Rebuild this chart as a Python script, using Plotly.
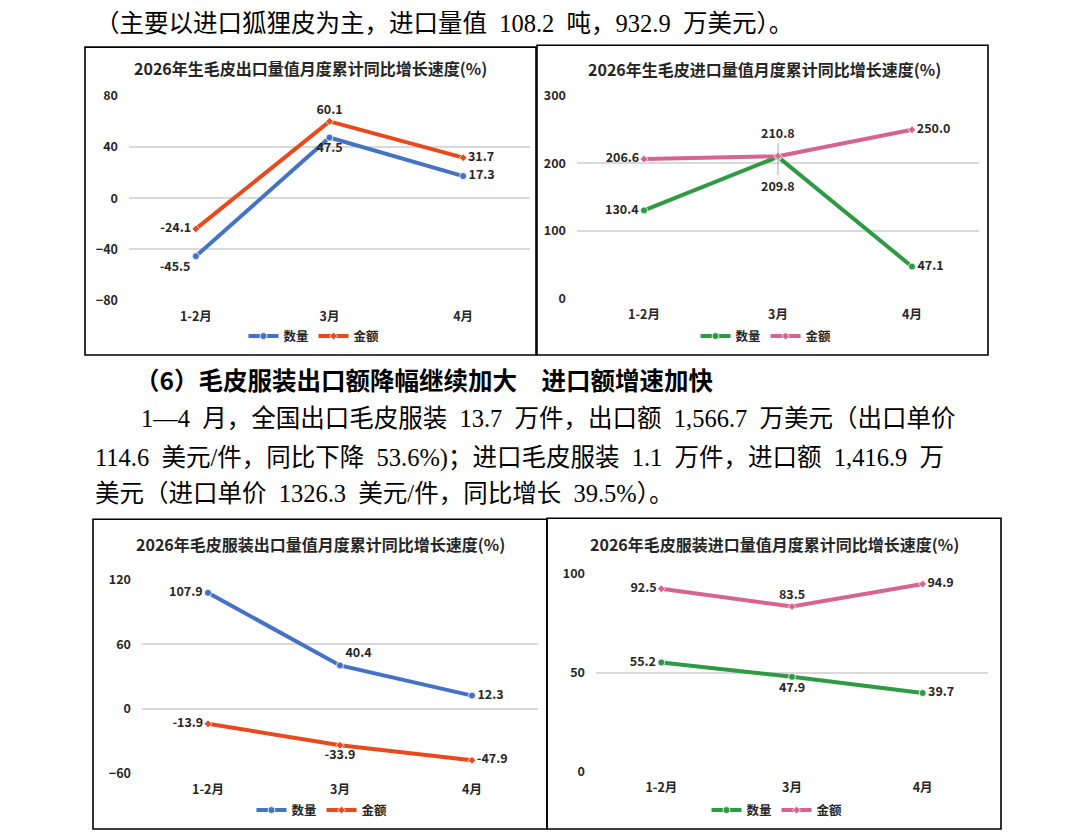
import plotly.graph_objects as go

W, H = 1085, 839

# data
months = ["1-2月", "3月", "4月"]

raw_export_qty = [-45.5, 47.5, 17.3]
raw_export_val = [-24.1, 60.1, 31.7]
raw_import_qty = [130.4, 209.8, 47.1]
raw_import_val = [206.6, 210.8, 250.0]
garment_export_qty = [107.9, 40.4, 12.3]
garment_export_val = [-13.9, -33.9, -47.9]
garment_import_qty = [55.2, 47.9, 39.7]
garment_import_val = [92.5, 83.5, 94.9]

titles = [
    "2026年生毛皮出口量值月度累计同比增长速度(%)",
    "2026年生毛皮进口量值月度累计同比增长速度(%)",
    "2026年毛皮服装出口量值月度累计同比增长速度(%)",
    "2026年毛皮服装进口量值月度累计同比增长速度(%)",
]
series_names = ["数量", "金额"]

# en spaces (\u2002) stand in for the half-width gaps of the original page
body_lines = [
    "（主要以进口狐狸皮为主，进口量值\u2002108.2\u2002吨，932.9\u2002万美元）。",
    "1—4\u2002月，全国出口毛皮服装\u200213.7\u2002万件，出口额\u20021,566.7\u2002万美元（出口单价",
    "114.6\u2002美元/件，同比下降\u200253.6%)；进口毛皮服装\u20021.1\u2002万件，进口额\u20021,416.9\u2002万",
    "美元（进口单价\u20021326.3\u2002美元/件，同比增长\u200239.5%）。",
]
heading = "（6）毛皮服装出口额降幅继续加大\u3000进口额增速加快"

CJK = "Noto Sans CJK SC"
BODY = "Liberation Serif, Noto Sans CJK SC"
INK = "#262626"
BLUE, ORANGE = "#4472C4", "#E8491D"
GREEN, PINK = "#2E9A44", "#D6648F"


def px(x):
    return x / W


def py(y):
    return 1 - y / H


# per panel: plot area (px), box (px), y range, tick step, legend centre, colours, label positions
panels = [
    dict(qty=raw_export_qty, val=raw_export_val, colors=(BLUE, ORANGE),
         plot=(129, 87, 530, 296), box=(85, 37, 536, 352), yr=(-80, 80), dtick=40,
         title_xy=(310, 58), leg=(314, 333),
         qpos=["bottom left", "bottom center", "middle right"],
         vpos=["middle left", "top center", "middle right"]),
    dict(qty=raw_import_qty, val=raw_import_val, colors=(GREEN, PINK),
         plot=(577, 87, 979, 294), box=(537, 35, 988, 352), yr=(0, 300), dtick=100,
         title_xy=(765, 59), leg=(766, 333),
         qpos=["middle left", "bottom center", "middle right"],
         vpos=["middle left", "top center", "middle right"]),
    dict(qty=garment_export_qty, val=garment_export_val, colors=(BLUE, ORANGE),
         plot=(142, 582, 538, 780), box=(93, 520, 547, 837), yr=(-60, 120), dtick=60,
         title_xy=(320, 545), leg=(322, 818),
         qpos=["middle left", "top right", "middle right"],
         vpos=["middle left", "bottom center", "middle right"]),
    dict(qty=garment_import_qty, val=garment_import_val, colors=(GREEN, PINK),
         plot=(596, 576, 988, 778), box=(547, 519, 1001, 837), yr=(0, 100), dtick=50,
         title_xy=(774, 545), leg=(777, 818),
         qpos=["middle left", "bottom center", "middle right"],
         vpos=["middle left", "top center", "middle right"]),
]

fig = go.Figure()
layout = {}
shapes = []
annotations = []

for i, p in enumerate(panels, start=1):
    sfx = "" if i == 1 else str(i)
    leg = "legend" if i == 1 else f"legend{i}"
    x0, y0, x1, y1 = p["plot"]

    for name, vals, color, symbol, pos in [
        (series_names[0], p["qty"], p["colors"][0], "circle", p["qpos"]),
        (series_names[1], p["val"], p["colors"][1], "diamond", p["vpos"]),
    ]:
        labels = [f"{v:.1f}" for v in vals]
        if i == 2:
            # the crossing point at 3月 gets leader-line labels instead
            labels[1] = ""
        fig.add_trace(go.Scatter(
            x=months, y=vals, name=name, legend=leg,
            xaxis="x" + sfx, yaxis="y" + sfx,
            mode="lines+markers+text",
            line=dict(color=color, width=4),
            marker=dict(symbol=symbol, size=7 if symbol == "circle" else 6,
                        color=color, line=dict(color="white", width=0.8)),
            text=labels, textposition=pos, cliponaxis=False,
            textfont=dict(family=CJK, size=12.5, color=INK, weight=700),
            hoverinfo="skip",
        ))

    layout["xaxis" + sfx] = dict(
        domain=[px(x0), px(x1)], anchor="y" + sfx, type="category",
        range=[-0.5, 2.5], showgrid=False, showline=False, zeroline=False,
        ticks="", ticklabelstandoff=7,
        tickfont=dict(family=CJK, size=12.5, color=INK, weight=700),
    )
    layout["yaxis" + sfx] = dict(
        domain=[py(y1), py(y0)], anchor="x" + sfx, range=list(p["yr"]),
        dtick=p["dtick"], showline=False, zeroline=False,
        gridcolor="#D9D9D9", gridwidth=1.5, ticks="", ticklabelstandoff=10,
        tickfont=dict(family=CJK, size=12.5, color=INK, weight=700),
    )
    layout[leg] = dict(
        orientation="h", x=px(p["leg"][0]), y=py(p["leg"][1]),
        xanchor="center", yanchor="middle", bgcolor="rgba(0,0,0,0)",
        font=dict(family=CJK, size=12.5, color=INK, weight=700),
        itemwidth=30, tracegroupgap=0,
    )

    bx0, by0, bx1, by1 = p["box"]
    shapes.append(dict(type="rect", xref="paper", yref="paper",
                       x0=px(bx0), x1=px(bx1), y0=py(by1), y1=py(by0),
                       line=dict(color="black", width=1.6)))
    annotations.append(dict(
        text=titles[i - 1], xref="paper", yref="paper",
        x=px(p["title_xy"][0]), y=py(p["title_xy"][1]),
        xanchor="center", yanchor="middle", showarrow=False,
        font=dict(family=CJK, size=16, color=INK, weight=700),
    ))

# leader-line labels for the overlapping 3月 points of the raw fur import chart
for val, ay in [(raw_import_val[1], -24), (raw_import_qty[1], 29)]:
    annotations.append(dict(
        x=months[1], y=val, xref="x2", yref="y2", text=f"{val:.1f}",
        showarrow=True, arrowhead=0, arrowwidth=1, arrowcolor="#A6A6A6",
        ax=0, ay=ay, standoff=0,
        font=dict(family=CJK, size=12.5, color=INK, weight=700),
    ))

# surrounding document text
text_rows = [
    (body_lines[0], 93, 13, False),
    (heading, 133, 377, True),
    (body_lines[1], 139, 417, False),
    (body_lines[2], 93, 457, False),
    (body_lines[3], 93, 494, False),
]
for txt, x, y, bold in text_rows:
    annotations.append(dict(
        text=txt, xref="paper", yref="paper", x=px(x), y=py(y),
        xanchor="left", yanchor="middle", showarrow=False,
        font=dict(family=CJK if bold else BODY, size=24.5, color="black",
                  weight=700 if bold else 400),
    ))

fig.update_layout(
    width=W, height=H, autosize=False,
    margin=dict(l=0, r=0, t=0, b=0),
    paper_bgcolor="white", plot_bgcolor="white",
    shapes=shapes, annotations=annotations,
    **layout,
)

# drop the browser's default body margin so the page maps 1:1 onto the window
fig.write_html("out.html", post_script="document.body.style.margin='0';",
               config={"displayModeBar": False})
